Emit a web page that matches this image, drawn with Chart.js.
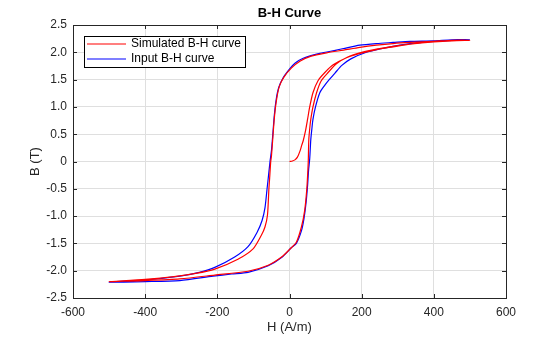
<!DOCTYPE html>
<html>
<head>
<meta charset="utf-8">
<script src="https://cdn.jsdelivr.net/npm/chart.js@4.4.1/dist/chart.umd.min.js"></script>
<style>
  html, body { margin: 0; padding: 0; background: #fff; }
  #wrap { width: 560px; height: 337px; }
</style>
</head>
<body>
<div id="wrap"><canvas id="bh"></canvas></div>
<script>
// simulated curve: initial magnetisation, then descending, then ascending branch
const simH = [0, 8, 15, 22, 29, 34, 38, 44, 50, 56, 65, 79, 98, 121, 158, 195, 241, 287, 334, 400, 450, 500,
  450, 400, 334, 287, 241, 195, 150, 103, 60, 30, 5, -15, -28, -36, -42, -46, -50, -52, -55, -57, -61, -68, -78, -101, -143, -207, -260, -320, -400, -500,
  -400, -304, -207, -115, -59, -22, 5, 19, 33, 42, 48, 51, 52, 53.5, 56, 59, 65, 75, 88, 107, 130, 160, 200, 241, 287, 334, 400, 450, 500];
const simB = [0, 0.01, 0.03, 0.08, 0.19, 0.30, 0.38, 0.55, 0.77, 1.00, 1.26, 1.48, 1.63, 1.77, 1.90, 1.98, 2.05, 2.10, 2.15, 2.19, 2.21, 2.22,
  2.22, 2.20, 2.18, 2.16, 2.13, 2.09, 2.04, 1.99, 1.93, 1.84, 1.71, 1.55, 1.38, 1.13, 0.80, 0.45, 0.10, 0, -0.30, -0.49, -0.98, -1.20, -1.35, -1.60, -1.79, -1.97, -2.05, -2.11, -2.16, -2.20,
  -2.18, -2.15, -2.08, -2.01, -1.90, -1.75, -1.58, -1.48, -1.20, -0.90, -0.50, -0.15, 0, 0.40, 0.60, 0.77, 1.00, 1.26, 1.48, 1.63, 1.79, 1.91, 2.00, 2.06, 2.11, 2.15, 2.19, 2.21, 2.22];

// input curve: descending branch then ascending branch
const inputH = [500, 450, 400, 334, 287, 241, 195, 150, 130, 84, 38, 15, 1, -18, -30, -37, -42, -46, -50, -54, -58, -62, -68, -76, -90, -115, -152, -207, -250, -304, -400, -500,
  -400, -304, -212, -160, -115, -59, -22, 5, 19, 33, 40, 46, 50, 53, 56, 59, 62, 65, 72, 84, 98, 110, 126, 145, 170, 213, 250, 287, 334, 400, 450, 500];
const inputB = [2.23, 2.23, 2.21, 2.20, 2.18, 2.16, 2.13, 2.07, 2.04, 1.98, 1.89, 1.80, 1.70, 1.53, 1.35, 1.13, 0.85, 0.52, 0.20, 0, -0.25, -0.49, -0.85, -1.08, -1.30, -1.56, -1.75, -1.94, -2.03, -2.10, -2.17, -2.21,
  -2.20, -2.18, -2.10, -2.06, -2.03, -1.91, -1.76, -1.58, -1.50, -1.27, -1.05, -0.75, -0.45, -0.15, 0.05, 0.40, 0.60, 0.77, 1.00, 1.26, 1.40, 1.50, 1.62, 1.76, 1.88, 2.00, 2.06, 2.11, 2.16, 2.20, 2.22, 2.23];

const xTicks = [-600, -400, -200, 0, 200, 400, 600];
const yTicks = [-2.5, -2, -1.5, -1, -0.5, 0, 0.5, 1, 1.5, 2, 2.5];
const seriesNames = ["Simulated B-H curve", "Input B-H curve"];
const seriesColors = ["#ff0000", "#0000ff"];

const FONT = "'Liberation Sans', Arial, Helvetica, sans-serif";
const INK = "#262626";

const toPoints = (xs, ys) => xs.map((x, i) => ({ x: x, y: ys[i] }));

// title, axis labels, box, inward ticks and legend, drawn the matlab way
const matlabLook = {
  id: "matlabLook",
  afterDraw(chart) {
    const ctx = chart.ctx;
    const a = chart.chartArea;
    const xs = chart.scales.x, ys = chart.scales.y;
    ctx.save();

    // box
    ctx.strokeStyle = INK;
    ctx.lineWidth = 1;
    ctx.strokeRect(Math.round(a.left) + 0.5, Math.round(a.top) + 0.5,
      Math.round(a.right - a.left), Math.round(a.bottom - a.top));

    // inward ticks
    ctx.beginPath();
    xTicks.forEach(v => {
      const px = Math.round(xs.getPixelForValue(v)) + 0.5;
      ctx.moveTo(px, a.bottom); ctx.lineTo(px, a.bottom - 4);
      ctx.moveTo(px, a.top); ctx.lineTo(px, a.top + 4);
    });
    yTicks.forEach(v => {
      const py = Math.round(ys.getPixelForValue(v)) + 0.5;
      ctx.moveTo(a.left, py); ctx.lineTo(a.left + 4, py);
      ctx.moveTo(a.right, py); ctx.lineTo(a.right - 4, py);
    });
    ctx.stroke();

    // title + axis labels
    ctx.fillStyle = "#000";
    ctx.textAlign = "center";
    ctx.textBaseline = "middle";
    ctx.font = "bold 13px " + FONT;
    ctx.fillText("B-H Curve", (a.left + a.right) / 2, 13);
    ctx.fillStyle = INK;
    ctx.font = "13px " + FONT;
    ctx.fillText("H (A/m)", (a.left + a.right) / 2, 327);
    ctx.save();
    ctx.translate(35, (a.top + a.bottom) / 2);
    ctx.rotate(-Math.PI / 2);
    ctx.fillText("B (T)", 0, 0);
    ctx.restore();

    // legend box
    const lx = 84, ly = 36, lw = 161, lh = 31;
    ctx.fillStyle = "#fff";
    ctx.fillRect(lx, ly, lw, lh);
    ctx.strokeStyle = "#000";
    ctx.strokeRect(lx + 0.5, ly + 0.5, lw, lh);
    ctx.font = "12px " + FONT;
    ctx.textAlign = "left";
    chart.data.datasets.forEach((ds, i) => {
      const y = ly + 8 + i * 15;
      ctx.strokeStyle = ds.borderColor;
      ctx.lineWidth = 1.2;
      ctx.beginPath();
      ctx.moveTo(lx + 3, y); ctx.lineTo(lx + 42, y);
      ctx.stroke();
      ctx.fillStyle = "#000";
      ctx.fillText(ds.label, lx + 47, y);
    });
    ctx.restore();
  }
};

new Chart(document.getElementById("bh"), {
  type: "scatter",
  data: {
    datasets: [
      { label: seriesNames[0], data: toPoints(simH, simB), borderColor: seriesColors[0] },
      { label: seriesNames[1], data: toPoints(inputH, inputB), borderColor: seriesColors[1] }
    ].map(d => Object.assign(d, {
      showLine: true, pointRadius: 0, borderWidth: 1.2, tension: 0.25, fill: false
    }))
  },
  options: {
    responsive: true,
    maintainAspectRatio: false,
    animation: false,
    layout: { padding: { top: 25, right: 54, left: 0, bottom: 0 } },
    plugins: { legend: { display: false }, tooltip: { enabled: false }, title: { display: false } },
    scales: {
      x: {
        type: "linear", min: -600, max: 600,
        afterBuildTicks: s => { s.ticks = xTicks.map(v => ({ value: v })); },
        afterFit: s => { s.height = 39; },
        grid: { color: "#dfdfdf", tickLength: 0 },
        border: { display: false },
        ticks: { color: INK, padding: 7, maxRotation: 0, font: { family: FONT, size: 12 } }
      },
      y: {
        type: "linear", min: -2.5, max: 2.5,
        afterBuildTicks: s => { s.ticks = yTicks.map(v => ({ value: v })); },
        afterFit: s => { s.width = 73; },
        grid: { color: "#dfdfdf", tickLength: 0 },
        border: { display: false },
        ticks: { color: INK, padding: 6, font: { family: FONT, size: 12 } }
      }
    }
  },
  plugins: [matlabLook]
});
</script>
</body>
</html>
